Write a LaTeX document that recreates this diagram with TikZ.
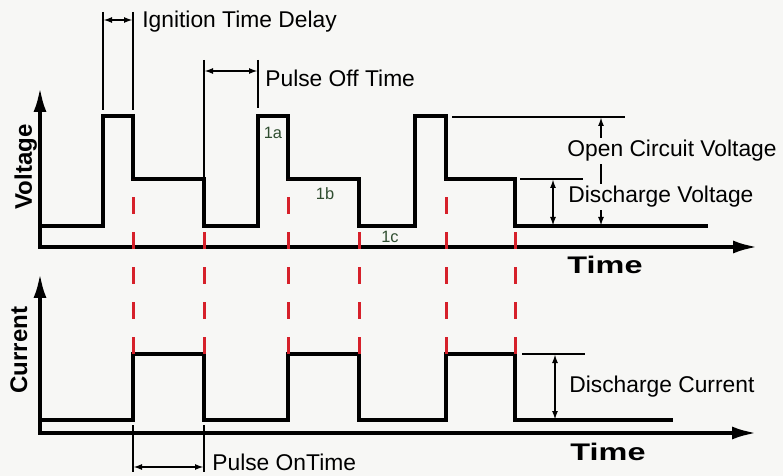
\documentclass[tikz,border=0pt]{standalone}
\usepackage{fontspec}
\setmainfont{Liberation Sans}
\usetikzlibrary{arrows.meta}
\definecolor{dashred}{RGB}{214,32,42}
\definecolor{tagcol}{RGB}{48,78,48}
\definecolor{paper}{RGB}{247,247,245}
\begin{document}
\begin{tikzpicture}[x=.5pt,y=-.5pt,line join=miter,
  wave/.style={line width=1.75pt},
  axis/.style={line width=2pt,{Latex[length=12.5pt,width=6.5pt]}-{Latex[length=12.5pt,width=6.5pt]}},
  dim/.style={line width=.9pt},
  dimarr/.style={line width=.9pt,{Latex[length=4.5pt,width=3pt]}-{Latex[length=4.5pt,width=3pt]}},
  guide/.style={dashred,line width=1.5pt,dash pattern=on 8.5pt off 9pt},
  txt/.style={font=\fontsize{11.4}{13}\selectfont,inner xsep=1pt,inner ysep=1pt},
  axlbl/.style={font=\fontsize{12}{14}\selectfont\bfseries,inner sep=0pt},
  tag/.style={font=\fontsize{8.2}{9}\selectfont,text=tagcol,inner sep=0pt}]
  \path[use as bounding box,fill=paper] (0,0) rectangle (783,476);
  % voltage
  \draw[wave] (40,226)--(103,226)--(103,116)--(133,116)--(133,179)--(204,179)--(204,226)
    --(258,226)--(258,116)--(288,116)--(288,179)--(359,179)--(359,226)
    --(415,226)--(415,116)--(446,116)--(446,179)--(515,179)--(515,226)--(708,226);
  \draw[axis] (40,87)--(40,247)--(758,247);
  % current
  \draw[wave] (40,420)--(133,420)--(133,354)--(204,354)--(204,420)
    --(288,420)--(288,354)--(359,354)--(359,420)
    --(446,420)--(446,354)--(515,354)--(515,420)--(673,420);
  \draw[axis] (40,273)--(40,433)--(757,433);
  % red guides
  \foreach \xx/\yy in {133/179,204/226,288/179,359/226,446/179,515/226}
    \draw[guide] (\xx,354)--(\xx,\yy);
  % dimensions
  \draw[dim] (103,12)--(103,110) (133,12)--(133,110);
  \draw[dimarr] (103,20)--(133,20);
  \draw[dim] (204,60)--(204,179) (258,60)--(258,108);
  \draw[dimarr] (204,71)--(258,71);
  \draw[dim] (133,425)--(133,472) (204,425)--(204,472);
  \draw[dimarr] (133,467)--(204,467);
  \draw[dim] (452,117)--(625,117) (520,179)--(583,179) (522,354)--(585,354);
  \draw[dimarr] (601,117)--(601,226);
  \draw[dimarr] (553,179)--(553,226);
  \draw[dimarr] (555,354)--(555,420);
  % labels
  \node[txt,anchor=base west] (ign) at (140,28) {Ignition Time Delay};
  \node[txt,anchor=base west] (poff) at (263,87) {Pulse Off Time};
  \node[txt,anchor=base west] (pon) at (210,470) {Pulse OnTime};
  \node[txt,anchor=base,fill=paper] (ocv) at (672,157) {Open Circuit Voltage};
  \node[txt,anchor=base west,fill=paper] (dv) at (566,203) {Discharge Voltage};
  \node[txt,anchor=base west] (dc) at (567,393) {Discharge Current};
  \node[axlbl,anchor=base] (tv) at (605,274) {\scalebox{1.35}[1]{Time}};
  \node[axlbl,anchor=base] (tc) at (608,460) {\scalebox{1.35}[1]{Time}};
  \node[axlbl,rotate=90,anchor=base] (vlab) at (32,167) {Voltage};
  \node[axlbl,rotate=90,anchor=base] (clab) at (27,350) {Current};
  \node[tag] (t1a) at (273,133) {1a};
  \node[tag] (t1b) at (325,194) {1b};
  \node[tag] (t1c) at (390,237) {1c};
\end{tikzpicture}
\end{document}
